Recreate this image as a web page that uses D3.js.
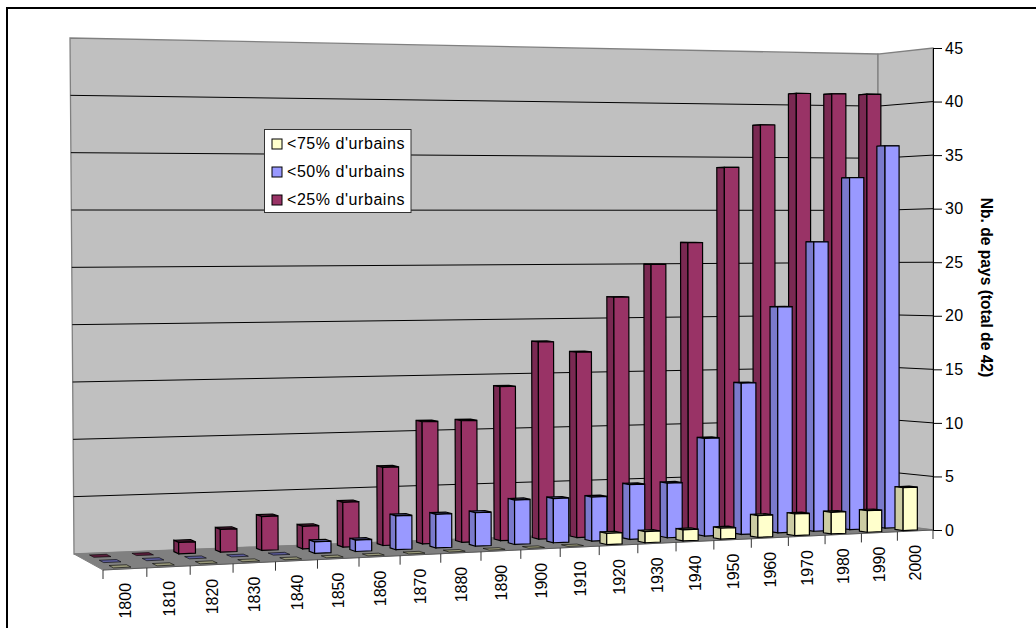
<!DOCTYPE html>
<html><head><meta charset="utf-8">
<script src="https://cdn.jsdelivr.net/npm/d3@7"></script>
<style>html,body{margin:0;padding:0;background:#fff;overflow:hidden}svg{display:block}text{font-family:"Liberation Sans",Arial,sans-serif;fill:#000}</style>
</head><body><div id="c"></div>
<script>
const years=[1800,1810,1820,1830,1840,1850,1860,1870,1880,1890,1900,1910,1920,1930,1940,1950,1960,1970,1980,1990,2000];
const under25=[0,0,1,2,3,2,4,7,11,11,14,18,17,22,25,27,34,38,41,41,41];
const under50=[0,0,0,0,0,1,1,3,3,3,4,4,4,5,5,9,14,21,27,33,36];
const under75=[0,0,0,0,0,0,0,0,0,0,0,0,1,1,1,1,2,2,2,2,4];
const yTicks=[0,5,10,15,20,25,30,35,40,45];
const legendLabels=["<75% d'urbains","<50% d'urbains","<25% d'urbains"];
const axisTitle="Nb. de pays (total de 42)";
const W=1036,H=628;
const svg=d3.select("#c").append("svg").attr("width",W).attr("height",H);
const font=16;
// projection
const backL=[74,554],backR=[878,523],frontR=[933,530],frontL=[103,570];
const scaleBL=516/45,scaleBR=469/45,scaleFR=482/45,scaleFL=11.8;
const warpK=0.115;
const uScale=d3.scaleLinear().domain([0,years.length]).range([0,1]);
const warp=u=>{const s=uScale(u);return s*(1+warpK)/(1+warpK*s);};
const lerp=(a,b,t)=>a+(b-a)*t;
function proj(u,d,h){
  const t=warp(u);
  const bx=lerp(backL[0],backR[0],t),by=lerp(backL[1],backR[1],t);
  const fx=lerp(frontL[0],frontR[0],t),fy=lerp(frontL[1],frontR[1],t);
  const s=lerp(lerp(scaleBL,scaleBR,t),lerp(scaleFL,scaleFR,t),d);
  const lean=-4*(1-t)*(1-d)*(h/45);
  return [lerp(bx,fx,d)+lean,lerp(by,fy,d)-s*h];
}
const poly=pts=>"M"+pts.map(p=>p.join(",")).join("L")+"Z";
const N=years.length;
svg.append("rect").attr("x",7).attr("y",8).attr("width",1100).attr("height",700).attr("fill","#fff").attr("stroke","#000").attr("stroke-width",2);
const maxH=yTicks[yTicks.length-1];
// walls
const wallStroke="#808080";
svg.append("path").attr("d",poly([proj(0,0,0),proj(N,0,0),proj(N,0,maxH),proj(0,0,maxH)])).attr("fill","#c0c0c0").attr("stroke",wallStroke).attr("stroke-width",1.3);
svg.append("path").attr("d",poly([proj(N,0,0),proj(N,1,0),proj(N,1,maxH),proj(N,0,maxH)])).attr("fill","#c0c0c0").attr("stroke",wallStroke).attr("stroke-width",1.3);
svg.append("path").attr("d",poly([proj(0,0,0),proj(N,0,0),proj(N,1,0),proj(0,1,0)])).attr("fill","#808080").attr("stroke",wallStroke);
// gridlines
yTicks.slice(1,-1).forEach(v=>{
  svg.append("path").attr("d","M"+[proj(0,0,v),proj(N,0,v),proj(N,1,v)].map(p=>p.join(",")).join("L")).attr("fill","none").attr("stroke","#000").attr("stroke-width",1);
});
// bars
const series=[
 {vals:under25,d:1/6,front:"#993366",side:"#7a2952",top:"#5c1f3d"},
 {vals:under50,d:1/2,front:"#9999ff",side:"#7a7acc",top:"#5c5c99"},
 {vals:under75,d:5/6,front:"#ffffcc",side:"#cccca3",top:"#99997a"}
];
const halfW=0.2,halfD=0.075;
const stroke="#000";
series.forEach(s=>{
  const g=svg.append("g");
  s.vals.forEach((v,i)=>{
    const u0=i+0.5-halfW,u1=i+0.5+halfW,d0=s.d-halfD,d1=s.d+halfD;
    g.append("path").attr("d",poly([proj(u0,d0,v),proj(u1,d0,v),proj(u1,d1,v),proj(u0,d1,v)])).attr("fill",s.top).attr("stroke",stroke).attr("stroke-width",v>0?1.2:1).attr("stroke-opacity",v>0?1:.6);
    if(v>0){
      g.append("path").attr("d",poly([proj(u0,d0,0),proj(u0,d1,0),proj(u0,d1,v),proj(u0,d0,v)])).attr("fill",s.side).attr("stroke",stroke).attr("stroke-width",1.2);
      g.append("path").attr("d",poly([proj(u0,d1,0),proj(u1,d1,0),proj(u1,d1,v),proj(u0,d1,v)])).attr("fill",s.front).attr("stroke",stroke).attr("stroke-width",1.2);
    }
  });
});
// y axis
const yScale=d3.scaleLinear().domain([0,maxH]).range([frontR[1],frontR[1]-scaleFR*maxH]);
const yAxis=d3.axisRight(yScale).tickValues(yTicks).tickSize(9).tickPadding(3).tickSizeOuter(0).tickFormat(d3.format("d"));
const ga=svg.append("g").attr("transform",`translate(${frontR[0]},0)`).call(yAxis);
ga.selectAll("text").style("font-size",font+"px").style("letter-spacing","0.4px");
ga.selectAll("line,path").attr("stroke","#000");
// x ticks
d3.range(N+1).forEach(i=>{
  const p=proj(i,1,0);
  svg.append("line").attr("x1",p[0]).attr("x2",p[0]).attr("y1",p[1]).attr("y2",p[1]+9).attr("stroke","#333");
});
svg.append("path").attr("d","M"+[proj(0,1,0),proj(N,1,0)].map(p=>p.join(",")).join("L")).attr("stroke","#333").attr("fill","none").attr("stroke-opacity",.5);
years.forEach((y,i)=>{
  const p=proj(i+0.5,1,0);
  svg.append("text").attr("transform",`translate(${p[0]+6},${p[1]+14}) rotate(-90)`).attr("text-anchor","end").style("font-size",font+"px").text(y);
});
// axis title
svg.append("text").attr("transform","translate(980.5,287.5) rotate(90)").attr("text-anchor","middle").style("font-size","15.6px").style("font-weight","bold").text(axisTitle);
// legend
const lg=svg.append("g");
lg.append("rect").attr("x",264.5).attr("y",129.5).attr("width",146.5).attr("height",83).attr("fill","#fff").attr("stroke","#333");
const legendColors=[series[2].front,series[1].front,series[0].front];
legendLabels.forEach((l,i)=>{
  const cy=144+i*28;
  lg.append("rect").attr("x",272).attr("y",cy-5).attr("width",10).attr("height",10).attr("fill",legendColors[i]).attr("stroke","#000");
  lg.append("text").attr("x",287).attr("y",cy+4.5).style("font-size",font+"px").style("letter-spacing","0.55px").text(l);
});
</script></body></html>
